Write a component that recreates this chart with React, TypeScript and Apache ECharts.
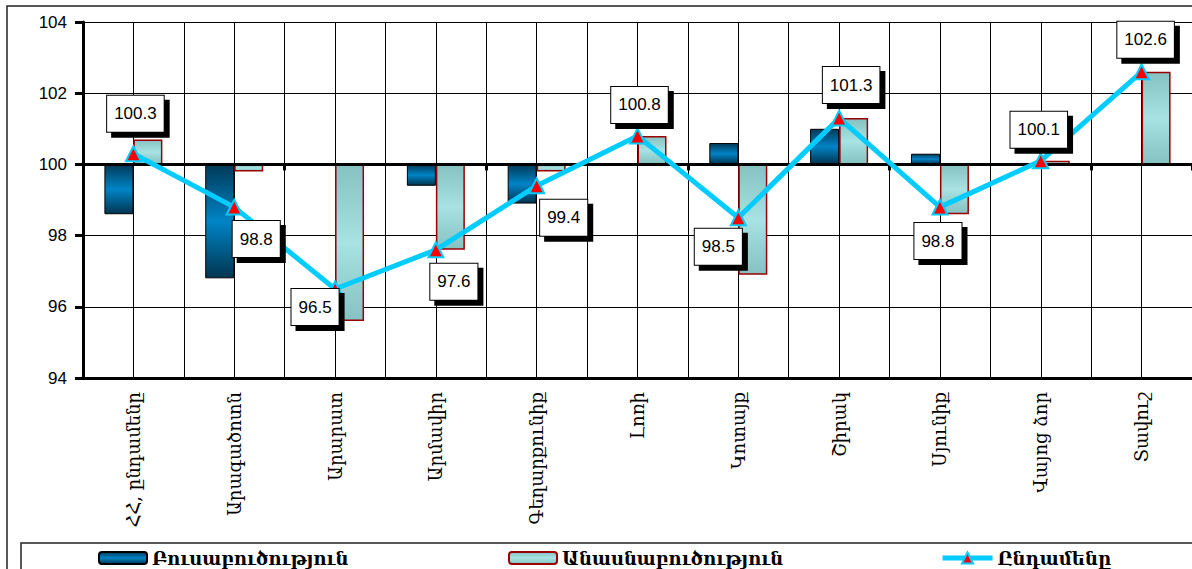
import React, { useEffect, useRef } from "react";
import * as echarts from "echarts";

const categories = [
  "ՀՀ, ընդամենը",
  "Արագածոտն",
  "Արարատ",
  "Արմավիր",
  "Գեղարքունիք",
  "Լոռի",
  "Կոտայք",
  "Շիրակ",
  "Սյունիք",
  "Վայոց ձոր",
  "Տավուշ",
];
const cropValues = [98.6, 96.8, 100.0, 99.4, 98.9, 100.0, 100.6, 101.0, 100.3, 100.0, 100.0];
const livestockValues = [100.7, 99.8, 95.6, 97.6, 99.8, 100.8, 96.9, 101.3, 98.6, 100.1, 102.6];
const totalValues = [100.3, 98.8, 96.5, 97.6, 99.4, 100.8, 98.5, 101.3, 98.8, 100.1, 102.6];
const yTicks = [94, 96, 98, 100, 102, 104];
const seriesNames = ["Բուսաբուծություն", "Անասնաբուծություն", "Ընդամենը"];
const BASE = 100;

// label box offsets (relative to the point)
const labelOffsets: [number, number][] = [
  [2, -40],
  [22, 32],
  [-20, 18],
  [18, 32],
  [27, 32],
  [2, -31],
  [-20, 29],
  [12, -33],
  [-2, 34],
  [-2, -31],
  [4, -32],
];

export default function App() {
  const ref = useRef<HTMLDivElement>(null);
  useEffect(() => {
    if (!ref.current) return;
    const chart = echarts.init(ref.current, undefined, { renderer: "svg" });
    const darkGrad = new echarts.graphic.LinearGradient(0, 0, 0, 1, [
      { offset: 0, color: "#003a58" },
      { offset: 0.5, color: "#0084c6" },
      { offset: 1, color: "#003550" },
    ]);
    const lightGrad = new echarts.graphic.LinearGradient(0, 0, 0, 1, [
      { offset: 0, color: "#86c2c2" },
      { offset: 0.5, color: "#a8e2e2" },
      { offset: 1, color: "#86c2c2" },
    ]);
    const legendText = {
      fontFamily: "DejaVu Serif",
      fontWeight: "bold" as const,
      fontSize: 18,
      color: "#000",
    };
    const option: any = {
      animation: false,
      backgroundColor: "#fff",
      graphic: [
        {
          type: "rect",
          shape: { x: 7, y: 6, width: 1400, height: 800 },
          style: { fill: "none", stroke: "#222", lineWidth: 1.5 },
          silent: true,
        },
        {
          type: "rect",
          shape: { x: 21, y: 543, width: 1400, height: 200 },
          style: { fill: "none", stroke: "#222", lineWidth: 1.5 },
          silent: true,
        },
      ],
      grid: { left: 83, top: 22, width: 1112, height: 356 },
      legend: [
        {
          data: [seriesNames[0]],
          left: 93,
          top: 544,
          itemWidth: 48,
          itemHeight: 12,
          textStyle: legendText,
        },
        {
          data: [seriesNames[1]],
          left: 503,
          top: 544,
          itemWidth: 48,
          itemHeight: 12,
          textStyle: legendText,
        },
        {
          data: [seriesNames[2]],
          left: 935,
          top: 544,
          itemWidth: 50,
          itemHeight: 14,
          lineStyle: { width: 5, color: "#00ccff" },
          textStyle: legendText,
        },
      ],
      xAxis: [
        {
          type: "category",
          data: categories,
          position: "bottom",
          axisLine: { onZero: false, lineStyle: { color: "#000", width: 3 } },
          axisTick: { show: false },
          splitLine: { show: false },
          axisLabel: {
            rotate: 90,
            margin: 14,
            fontFamily: "DejaVu Serif",
            fontSize: 18,
            color: "#000",
          },
        },
        {
          type: "category",
          data: categories,
          position: "bottom",
          z: 3,
          axisLine: { onZero: true, lineStyle: { color: "#000", width: 3 } },
          axisTick: { show: true, length: 6, lineStyle: { color: "#000", width: 3 } },
          axisLabel: { show: false },
          splitLine: { show: false },
        },
        {
          type: "value",
          min: 0,
          max: 11,
          interval: 0.5,
          position: "top",
          axisLine: { show: false },
          axisTick: { show: false },
          axisLabel: { show: false },
          splitLine: { show: true, lineStyle: { color: "#000", width: 1 } },
        },
      ],
      yAxis: {
        type: "value",
        min: yTicks[0] - BASE,
        max: yTicks[yTicks.length - 1] - BASE,
        interval: 2,
        axisLine: { show: true, lineStyle: { color: "#000", width: 3 } },
        axisTick: { show: true, length: 8, lineStyle: { color: "#000", width: 3 } },
        splitLine: { show: true, lineStyle: { color: "#000", width: 1 } },
        axisLabel: {
          margin: 16,
          fontFamily: "Liberation Sans",
          fontSize: 17,
          color: "#000",
          formatter: (v: number) => String(Math.round(v + BASE)),
        },
      },
      series: [
        {
          name: seriesNames[0],
          type: "bar",
          xAxisIndex: 0,
          barWidth: 29,
          barGap: "0%",
          data: cropValues.map((v) => +(v - BASE).toFixed(3)),
          itemStyle: { color: darkGrad, borderColor: "#000", borderWidth: 1 },
          z: 2,
        },
        {
          name: seriesNames[1],
          type: "bar",
          xAxisIndex: 0,
          barWidth: 29,
          barGap: "0%",
          data: livestockValues.map((v) => +(v - BASE).toFixed(3)),
          itemStyle: { color: lightGrad, borderColor: "#9a0000", borderWidth: 1.5 },
          z: 2,
        },
        {
          name: seriesNames[2],
          type: "line",
          xAxisIndex: 0,
          z: 5,
          symbol: "triangle",
          symbolSize: 15,
          lineStyle: { color: "#00ccff", width: 5 },
          itemStyle: { color: "#ff0000", borderColor: "#00ccff", borderWidth: 2 },
          data: totalValues.map((v, i) => ({
            value: +(v - BASE).toFixed(3),
            label: { offset: labelOffsets[i] },
          })),
          label: {
            show: true,
            position: "inside",
            formatter: (p: any) => totalValues[p.dataIndex].toFixed(1),
            fontFamily: "Liberation Sans",
            fontSize: 17,
            color: "#000",
            backgroundColor: "#fff",
            borderColor: "#000",
            borderWidth: 1,
            padding: [8, 7],
            lineHeight: 20,
            shadowColor: "#000",
            shadowBlur: 0,
            shadowOffsetX: 5,
            shadowOffsetY: 5,
          },
        },
      ],
    };
    chart.setOption(option);
    return () => chart.dispose();
  }, []);
  return (
    <div
      ref={ref}
      style={{ position: "fixed", left: 0, top: 0, width: 1192, height: 569, background: "#fff" }}
    />
  );
}
